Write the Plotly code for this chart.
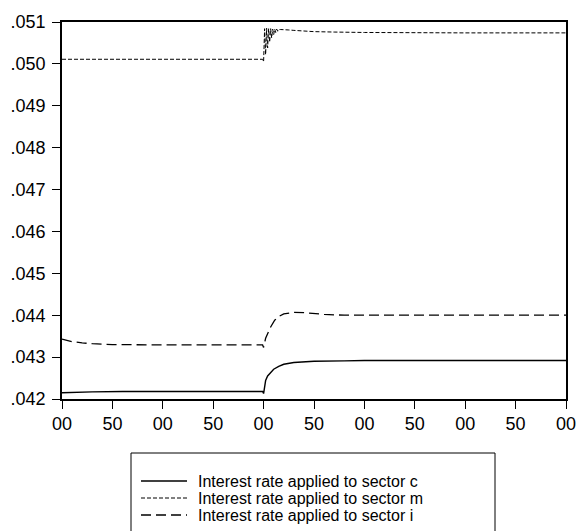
import plotly.graph_objects as go

# Interest rates by sector, periods 0..500 (shock at period 200)
c_periods = [0, 10, 30, 60, 100, 150, 199, 200, 201, 202, 204, 207, 210, 215, 220, 230, 250, 280, 300, 400, 500]
c_rate = [0.04215, 0.04216, 0.04217, 0.04218, 0.04218, 0.04218, 0.04218, 0.04213, 0.04235, 0.04244, 0.04255,
          0.04264, 0.04271, 0.04278, 0.04283, 0.04287, 0.04290, 0.04291, 0.04292, 0.04292, 0.04292]

m_periods = [0, 100, 199, 200, 201, 202, 203, 204, 205, 206, 207, 208, 209, 210, 211, 212, 213, 214, 215,
             217, 220, 225, 230, 240, 250, 270, 300, 400, 500]
m_rate = [0.05011, 0.05011, 0.05011, 0.05005, 0.05084, 0.05022, 0.05085, 0.05038, 0.05084, 0.05052, 0.05084,
          0.05062, 0.05083, 0.05070, 0.05083, 0.05075, 0.05083, 0.05078, 0.05082, 0.05082, 0.05082, 0.05081,
          0.05080, 0.05078, 0.05077, 0.05076, 0.05075, 0.05074, 0.05074]

i_periods = [0, 10, 20, 30, 50, 100, 199, 200, 202, 204, 207, 211, 215, 220, 230, 240, 260, 280, 300, 400, 500]
i_rate = [0.04343, 0.04337, 0.04334, 0.04332, 0.04330, 0.04329, 0.04329, 0.04323, 0.04345, 0.04357, 0.04372,
          0.04388, 0.04397, 0.04403, 0.04407, 0.04406, 0.04402, 0.04400, 0.04400, 0.04400, 0.04400]

series_names = ["Interest rate applied to sector c",
                "Interest rate applied to sector m",
                "Interest rate applied to sector i"]

x_tickvals = [0, 50, 100, 150, 200, 250, 300, 350, 400, 450, 500]
x_ticktext = ["00", "50", "00", "50", "00", "50", "00", "50", "00", "50", "00"]
y_tickvals = [0.042, 0.043, 0.044, 0.045, 0.046, 0.047, 0.048, 0.049, 0.050, 0.051]
y_ticktext = [".042", ".043", ".044", ".045", ".046", ".047", ".048", ".049", ".050", ".051"]

FONT = "Liberation Sans, Arial, sans-serif"
dashes = ["solid", "4px,2px", "10px,5px"]
widths = [1.4, 1.0, 1.3]

fig = go.Figure()
for xs, ys, name, dash, w in zip([c_periods, m_periods, i_periods], [c_rate, m_rate, i_rate],
                                 series_names, dashes, widths):
    fig.add_trace(go.Scatter(x=xs, y=ys, mode="lines", name=name, showlegend=False,
                             line=dict(color="black", width=w, dash=dash)))

# plot area in pixels
W, H = 576, 531
L, R, T, B = 62, 10, 22, 132
pw, ph = W - L - R, H - T - B


def px(xp):
    return (xp - L) / pw


def py(yp):
    return (H - B - yp) / ph


# legend box drawn in paper coordinates
shapes = [dict(type="rect", xref="paper", yref="paper", x0=px(131), x1=px(495), y0=py(545), y1=py(453),
               line=dict(color="black", width=1), fillcolor="white", layer="above")]
annotations = []
row_y = [481, 498, 515]
for name, dash, w, yy in zip(series_names, dashes, widths, row_y):
    shapes.append(dict(type="line", xref="paper", yref="paper", x0=px(141), x1=px(187), y0=py(yy), y1=py(yy),
                       line=dict(color="black", width=w, dash=dash), layer="above"))
    annotations.append(dict(text=name, xref="paper", yref="paper", x=px(196), y=py(yy), xanchor="left",
                            yanchor="middle", showarrow=False, font=dict(family=FONT, size=16, color="black")))

axis_common = dict(ticks="outside", ticklen=8, tickwidth=1, tickcolor="black", showline=True,
                   linecolor="black", linewidth=1.6, mirror=True, showgrid=False, zeroline=False,
                   automargin=False, ticklabeloverflow="allow",
                   tickfont=dict(family=FONT, size=18, color="black"))

fig.update_layout(
    width=W, height=H,
    margin=dict(l=L, r=R, t=T, b=B, pad=0, autoexpand=False),
    paper_bgcolor="white", plot_bgcolor="white",
    font=dict(family=FONT, size=18, color="black"),
    shapes=shapes, annotations=annotations,
    xaxis=dict(range=[0, 500], tickvals=x_tickvals, ticktext=x_ticktext, **axis_common),
    yaxis=dict(range=[0.042, 0.051], tickvals=y_tickvals, ticktext=y_ticktext, ticklabelstandoff=3,
               **axis_common),
)

fig.write_html("out.html")
